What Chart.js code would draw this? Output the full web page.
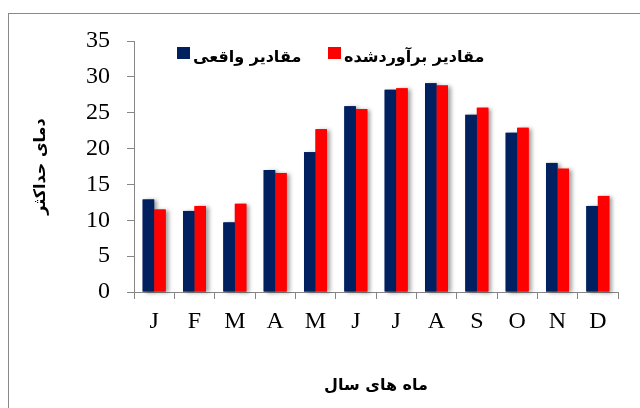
<!doctype html>
<html lang="fa"><head><meta charset="utf-8">
<title>دمای حداکثر</title>
<script src="https://cdn.jsdelivr.net/npm/chart.js@4.4.0/dist/chart.umd.min.js"></script>
<style>
  html,body{margin:0;padding:0;background:#fff;overflow:hidden}
  .wrap{position:relative;width:640px;height:408px}
  .frame{position:absolute;left:8px;top:13px;width:700px;height:500px;border:1px solid #898989;box-sizing:border-box}
  canvas{position:absolute;left:0;top:0}
</style></head><body>
<div class="wrap">
  <div class="frame"></div>
  <canvas id="c" width="640" height="408"></canvas>
</div>
<script>
// داده ها
const MONTHS = ['J', 'F', 'M', 'A', 'M', 'J', 'J', 'A', 'S', 'O', 'N', 'D'];
const ACTUAL = [12.9, 11.3, 9.7, 17.0, 19.5, 25.9, 28.2, 29.1, 24.7, 22.2, 18.0, 12.0];
const ESTIMATED = [11.5, 12.0, 12.3, 16.6, 22.7, 25.5, 28.4, 28.8, 25.7, 22.9, 17.2, 13.4];
const LABEL_ACTUAL = 'مقادیر واقعی';
const LABEL_ESTIMATED = 'مقادیر برآوردشده';
const Y_TITLE = 'دمای حداکثر';
const X_TITLE = 'ماه های سال';

const NAVY = '#002060', RED = '#ff0000', AXIS = '#868686';
const AR_FONT = "'DejaVu Sans', sans-serif";
const NUM_FONT = "'Liberation Serif', 'Times New Roman', serif";

// سایه میله ها — قبل از رسم داده ها کشیده می شود تا روی میله کناری نیفتد
const barShadow = {
  id: 'barShadow',
  beforeDatasetsDraw(chart) {
    const ctx = chart.ctx;
    ctx.save();
    ctx.shadowColor = 'rgba(0,0,0,0.38)';
    ctx.shadowBlur = 4;
    ctx.shadowOffsetX = 3;
    ctx.shadowOffsetY = 1;
    chart.data.datasets.forEach((ds, i) => {
      chart.getDatasetMeta(i).data.forEach(bar => {
        const p = bar.getProps(['x', 'y', 'base', 'width'], true);
        ctx.fillStyle = ds.backgroundColor;
        ctx.fillRect(p.x - p.width / 2, p.y, p.width, p.base - p.y);
      });
    });
    ctx.restore();
  }
};

// راهنما داخل ناحیه نمودار
const inlineLegend = {
  id: 'inlineLegend',
  afterDraw(chart) {
    const ctx = chart.ctx;
    const pos = [177, 328];
    ctx.save();
    ctx.font = "bold 16px " + AR_FONT;
    ctx.textBaseline = 'middle';
    ctx.textAlign = 'left';
    chart.data.datasets.forEach((ds, i) => {
      const x = pos[i], y = 47;
      ctx.fillStyle = ds.backgroundColor;
      ctx.fillRect(x, y, 13, 12);
      ctx.fillStyle = '#000';
      ctx.fillText(ds.label, x + 16, y + 11);
    });
    ctx.restore();
  }
};

new Chart(document.getElementById('c'), {
  type: 'bar',
  data: {
    labels: MONTHS,
    datasets: [
      { label: LABEL_ACTUAL, data: ACTUAL, backgroundColor: NAVY, borderWidth: 0 },
      { label: LABEL_ESTIMATED, data: ESTIMATED, backgroundColor: RED, borderWidth: 0 }
    ]
  },
  options: {
    responsive: false,
    animation: false,
    categoryPercentage: 0.57,
    barPercentage: 1.0,
    layout: { padding: { left: 8, right: 22, top: 41, bottom: 0 } },
    plugins: { legend: { display: false }, tooltip: { enabled: false } },
    scales: {
      x: {
        afterFit: s => { s.height = 116; },
        grid: { display: true, drawOnChartArea: false, tickLength: 7, color: AXIS, offset: true },
        border: { color: AXIS, width: 1 },
        ticks: { color: '#000', padding: 8, font: { family: NUM_FONT, size: 24 }, maxRotation: 0 },
        title: { display: true, text: X_TITLE, color: '#000', font: { family: AR_FONT, size: 16, weight: 'bold' }, padding: { top: 0, bottom: 13 } }
      },
      y: {
        min: 0, max: 35,
        afterFit: s => { s.width = 126; },
        grid: { display: true, drawOnChartArea: false, tickLength: 7, color: AXIS },
        border: { color: AXIS, width: 1 },
        ticks: { stepSize: 5, color: '#000', padding: 17, font: { family: NUM_FONT, size: 24 } },
        title: { display: true, text: Y_TITLE, color: '#000', font: { family: AR_FONT, size: 16, weight: 'bold' }, padding: { top: 23, bottom: 0 } }
      }
    }
  },
  plugins: [barShadow, inlineLegend]
});
</script>
</body></html>
